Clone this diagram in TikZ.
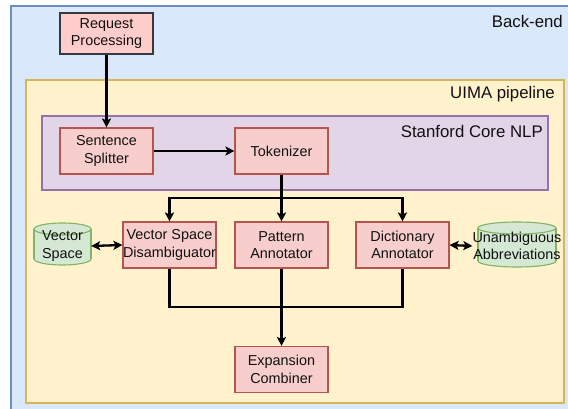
\documentclass[tikz,border=0pt]{standalone}
\usepackage{fontspec}
\setmainfont{Liberation Sans}
\usetikzlibrary{arrows.meta}
\definecolor{beFill}{HTML}{DAE8FC}\definecolor{beLine}{HTML}{6C8EBF}
\definecolor{uiFill}{HTML}{FFF2CC}\definecolor{uiLine}{HTML}{D6B656}
\definecolor{snFill}{HTML}{E1D5E7}\definecolor{snLine}{HTML}{9673A6}
\definecolor{rdFill}{HTML}{F8CECC}\definecolor{rdLine}{HTML}{B85450}
\definecolor{rqFill}{HTML}{FFCCCC}\definecolor{rqLine}{HTML}{36393D}
\definecolor{gnFill}{HTML}{D5E8D4}\definecolor{gnLine}{HTML}{82B366}
\definecolor{txt}{HTML}{111111}
\begin{document}
\begin{tikzpicture}[x=1pt,y=-1pt,
  font=\fontsize{14.4}{17.5}\selectfont, text=txt,
  proc/.style={draw=rdLine, fill=rdFill, line width=1.1pt, minimum width=93pt, minimum height=46pt, inner sep=0pt, align=center},
  req/.style={proc, draw=rqLine, fill=rqFill, minimum height=41pt},
  cylarea/.style={minimum width=#1, inner sep=0pt, align=center},
  grp/.style={line width=1.1pt},
  grplabel/.style={anchor=east, inner sep=0pt, font=\fontsize{16.8}{20}\selectfont},
  flow/.style={line width=2.3pt, -{Stealth[length=9pt,width=9pt,inset=2pt]}},
  link/.style={line width=2.3pt},
  both/.style={line width=2.3pt, {Stealth[length=9pt,width=9pt,inset=2pt]}-{Stealth[length=9pt,width=9pt,inset=2pt]}}
]
\useasboundingbox (0,0) rectangle (568,409);
\fill[white] (0,0) rectangle (568,409);
% groups
\filldraw[grp, draw=beLine, fill=beFill] (11,6) rectangle (580,420);
\node[grplabel] (belab) at (563,21) {Back-end};
\filldraw[grp, draw=uiLine, fill=uiFill] (26,80) rectangle (564,403);
\node[grplabel] (uilab) at (555,94) {UIMA pipeline};
\filldraw[grp, draw=snLine, fill=snFill] (42,116) rectangle (548,190);
\node[grplabel] (snlab) at (543,131) {Stanford Core NLP};
% cylinders
\foreach \xa/\xb/\ya/\yb in {34/91/223/265, 478/556/222/267}{
  \pgfmathsetmacro{\cx}{(\xa+\xb)/2}
  \pgfmathsetmacro{\rx}{(\xb-\xa)/2}
  \filldraw[draw=gnLine, fill=gnFill, line width=1.1pt] (\cx,\yb-6) ellipse [x radius=\rx pt, y radius=6pt];
  \fill[gnFill] (\xa,\ya+6) rectangle (\xb,\yb-6);
  \draw[gnLine, line width=1.1pt] (\xa,\ya+6) -- (\xa,\yb-6) (\xb,\ya+6) -- (\xb,\yb-6);
  \filldraw[draw=gnLine, fill=gnFill, line width=1.1pt] (\cx,\ya+6) ellipse [x radius=\rx pt, y radius=6pt];
}
\node[cylarea=57pt, minimum height=42pt] (vs) at (62.5,246) {Vector\\Space};
\node[cylarea=78pt, minimum height=45pt] (abbr) at (517,246) {Unambiguous\\Abbreviations};
% process boxes
\node[req] (rp) at (106.5,33.5) {Request\\Processing};
\node[proc] (ss) at (106.5,151) {Sentence\\Splitter};
\node[proc] (tok) at (281.5,151) {Tokenizer};
\node[proc] (vsd) at (169.5,245) {Vector Space\\Disambiguator};
\node[proc] (pa) at (281.5,245) {Pattern\\Annotator};
\node[proc] (da) at (402.5,245) {Dictionary\\Annotator};
\node[proc] (ec) at (281.5,369.5) {Expansion\\Combiner};
% connectors
\draw[flow] (rp) -- (ss);
\draw[flow] (ss) -- (tok);
\draw[flow] (tok) -- (pa);
\coordinate (busL) at (169.5,198);
\coordinate (busR) at (402.5,198);
\draw[flow] (tok.south |- busL) -- (busL) -- (vsd);
\draw[flow] (tok.south |- busR) -- (busR) -- (da);
\coordinate (mL) at (169.5,307);
\coordinate (mR) at (402.5,307);
\draw[link] (vsd) -- (mL) -- (mR) -- (da);
\draw[flow] (pa) -- (ec);
\draw[both] (vs.east) -- (vsd.west);
\draw[both] (da.east) -- (abbr.west);
\end{tikzpicture}
\end{document}
